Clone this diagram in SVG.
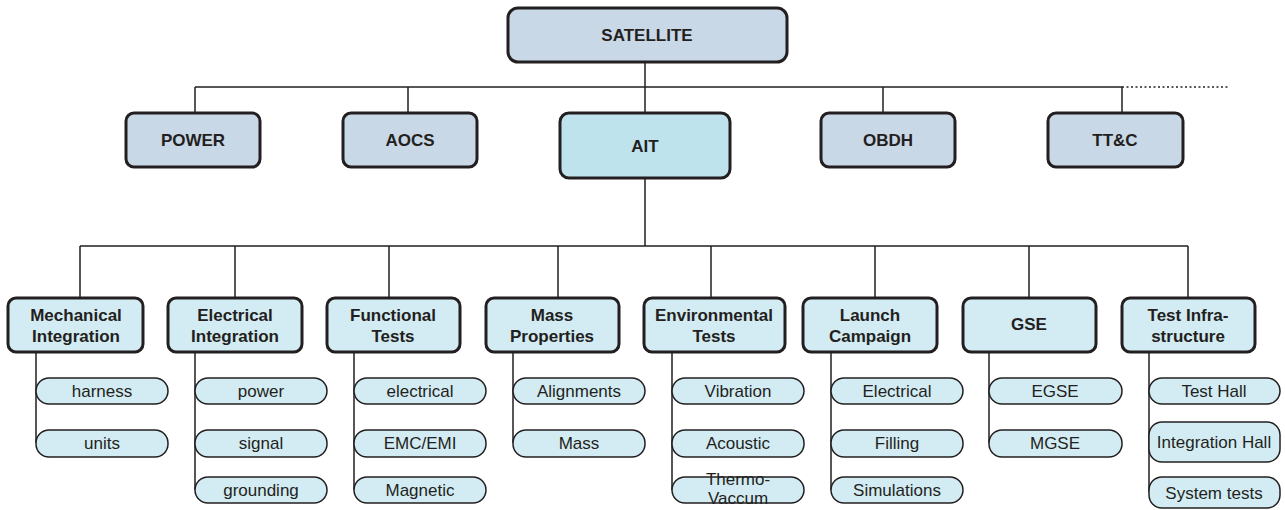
<svg xmlns="http://www.w3.org/2000/svg" width="1285" height="510" viewBox="0 0 1285 510">
<style>
text{font-family:"Liberation Sans",Arial,sans-serif;font-size:17px;fill:#231f20;text-anchor:middle}
.b{font-weight:bold}
.top{fill:#c9d8e7;stroke:#231f20;stroke-width:3}
.ait{fill:#bee3ed;stroke:#231f20;stroke-width:3}
.hd{fill:#d3ecf3;stroke:#231f20;stroke-width:3}
.pl{fill:#d3ecf3;stroke:#231f20;stroke-width:1.5}
.ln{stroke:#231f20;stroke-width:1.5;fill:none}
</style>
<g id="connectors">
<path class="ln" d="M645 62V87M195 87H1122M195 87V113M408 87V113M645 87V113M883 87V113M1122 87V113"/>
<path class="ln" d="M1122 87H1228" stroke-dasharray="2 2.5"/>
<path class="ln" d="M645 178V246M80 246H1188M80 246V298M235 246V298M389 246V298M558 246V298M711 246V298M875 246V298M1029 246V298M1188 246V298"/>
<path class="ln" d="M36 352V443M195 352V490M354 352V490M513 352V443M672 352V490M831 352V490M989 352V443M1149 352V492"/>
</g>
<g id="satellite"><rect class="top" x="508" y="8" width="279" height="54" rx="10"/><text class="b" x="647" y="41">SATELLITE</text></g>
<g id="power"><rect class="top" x="126" y="113" width="134" height="54" rx="8"/><text class="b" x="193" y="146">POWER</text></g>
<g id="aocs"><rect class="top" x="343" y="113" width="134" height="54" rx="8"/><text class="b" x="410" y="146">AOCS</text></g>
<g id="ait"><rect class="ait" x="560" y="113" width="170" height="65" rx="9"/><text class="b" x="645" y="152">AIT</text></g>
<g id="obdh"><rect class="top" x="821" y="113" width="134" height="54" rx="8"/><text class="b" x="888" y="146">OBDH</text></g>
<g id="ttc"><rect class="top" x="1048" y="113" width="135" height="54" rx="8"/><text class="b" x="1115" y="146">TT&amp;C</text></g>

<g id="mech"><rect class="hd" x="8" y="298" width="135" height="54" rx="8"/><text class="b" x="76" y="321">Mechanical</text><text class="b" x="76" y="342">Integration</text></g>
<g id="mech-harness"><rect class="pl" x="36" y="378" width="132" height="26" rx="13"/><text x="102" y="397">harness</text></g>
<g id="mech-units"><rect class="pl" x="36" y="430" width="132" height="27" rx="13"/><text x="102" y="449">units</text></g>

<g id="elec"><rect class="hd" x="168" y="298" width="134" height="54" rx="8"/><text class="b" x="235" y="321">Electrical</text><text class="b" x="235" y="342">Integration</text></g>
<g id="elec-power"><rect class="pl" x="195" y="378" width="132" height="26" rx="13"/><text x="261" y="397">power</text></g>
<g id="elec-signal"><rect class="pl" x="195" y="430" width="132" height="27" rx="13"/><text x="261" y="449">signal</text></g>
<g id="elec-grounding"><rect class="pl" x="195" y="477" width="132" height="26" rx="13"/><text x="261" y="496">grounding</text></g>

<g id="func"><rect class="hd" x="327" y="298" width="133" height="54" rx="8"/><text class="b" x="393" y="321">Functional</text><text class="b" x="393" y="342">Tests</text></g>
<g id="func-electrical"><rect class="pl" x="354" y="378" width="132" height="26" rx="13"/><text x="420" y="397">electrical</text></g>
<g id="func-emc"><rect class="pl" x="354" y="430" width="132" height="27" rx="13"/><text x="420" y="449">EMC/EMI</text></g>
<g id="func-magnetic"><rect class="pl" x="354" y="477" width="132" height="26" rx="13"/><text x="420" y="496">Magnetic</text></g>

<g id="mass"><rect class="hd" x="486" y="298" width="133" height="54" rx="8"/><text class="b" x="552" y="321">Mass</text><text class="b" x="552" y="342">Properties</text></g>
<g id="mass-align"><rect class="pl" x="513" y="378" width="132" height="26" rx="13"/><text x="579" y="397">Alignments</text></g>
<g id="mass-mass"><rect class="pl" x="513" y="430" width="132" height="27" rx="13"/><text x="579" y="449">Mass</text></g>

<g id="env"><rect class="hd" x="644" y="298" width="141" height="54" rx="8"/><text class="b" x="714" y="321">Environmental</text><text class="b" x="714" y="342">Tests</text></g>
<g id="env-vib"><rect class="pl" x="672" y="378" width="132" height="26" rx="13"/><text x="738" y="397">Vibration</text></g>
<g id="env-ac"><rect class="pl" x="672" y="430" width="132" height="27" rx="13"/><text x="738" y="449">Acoustic</text></g>
<g id="env-tv"><rect class="pl" x="672" y="477" width="132" height="26" rx="13"/><text x="738" y="485">Thermo-</text><text x="738" y="504">Vaccum</text></g>

<g id="launch"><rect class="hd" x="803" y="298" width="134" height="54" rx="8"/><text class="b" x="870" y="321">Launch</text><text class="b" x="870" y="342">Campaign</text></g>
<g id="launch-el"><rect class="pl" x="831" y="378" width="132" height="26" rx="13"/><text x="897" y="397">Electrical</text></g>
<g id="launch-fill"><rect class="pl" x="831" y="430" width="132" height="27" rx="13"/><text x="897" y="449">Filling</text></g>
<g id="launch-sim"><rect class="pl" x="831" y="477" width="132" height="26" rx="13"/><text x="897" y="496">Simulations</text></g>

<g id="gse"><rect class="hd" x="963" y="298" width="133" height="54" rx="8"/><text class="b" x="1029" y="330">GSE</text></g>
<g id="gse-egse"><rect class="pl" x="989" y="378" width="133" height="26" rx="13"/><text x="1055" y="397">EGSE</text></g>
<g id="gse-mgse"><rect class="pl" x="989" y="430" width="133" height="27" rx="13"/><text x="1055" y="449">MGSE</text></g>

<g id="infra"><rect class="hd" x="1122" y="298" width="133" height="54" rx="8"/><text class="b" x="1188" y="321">Test Infra-</text><text class="b" x="1188" y="342">structure</text></g>
<g id="infra-test"><rect class="pl" x="1149" y="378" width="131" height="26" rx="13"/><text x="1214" y="397">Test Hall</text></g>
<g id="infra-int"><rect class="pl" x="1149" y="422" width="131" height="40" rx="13"/><text x="1214" y="448">Integration Hall</text></g>
<g id="infra-sys"><rect class="pl" x="1149" y="477" width="131" height="31" rx="13"/><text x="1214" y="499">System tests</text></g>
</svg>
